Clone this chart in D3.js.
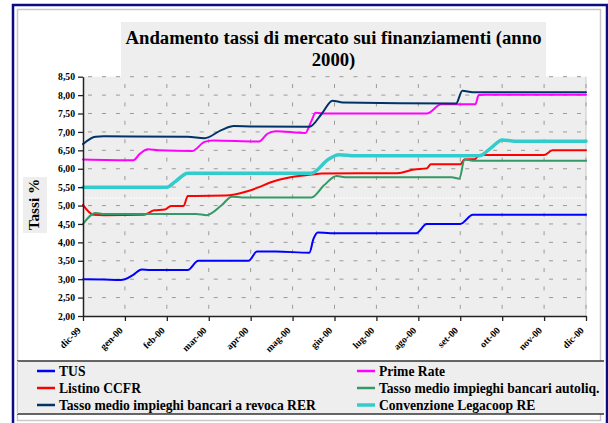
<!DOCTYPE html>
<html>
<head>
<meta charset="utf-8">
<script src="https://cdn.jsdelivr.net/npm/d3@7"></script>
<style>
  html, body { margin: 0; padding: 0; background: #ffffff; }
  svg text { font-family: "Liberation Serif", "Tinos", "Times New Roman", "DejaVu Serif", serif; }
</style>
</head>
<body>
<svg id="chart" width="608" height="423"></svg>
<script>
// ---------------- data ----------------
const title = ["Andamento tassi di mercato sui finanziamenti (anno", "2000)"];
const yLabel = "Tassi %";
const months = ["dic-99","gen-00","feb-00","mar-00","apr-00","mag-00","giu-00","lug-00","ago-00","set-00","ott-00","nov-00","dic-00"];
const yTicks = [2.0,2.5,3.0,3.5,4.0,4.5,5.0,5.5,6.0,6.5,7.0,7.5,8.0,8.5];

const seriesNames = ["TUS","Prime Rate","Listino CCFR","Tasso medio impieghi bancari autoliq.","Tasso medio impieghi bancari a revoca RER","Convenzione Legacoop RE"];
const seriesColors = ["#0000ff","#ff00ff","#ff0000","#339966","#003366","#33cccc"];

// [month index (0 = dic-99), rate %]
const tus = [[0,3.00],[0.5,2.99],[0.9,2.98],[1.0,3.00],[1.2,3.12],[1.4,3.26],[1.6,3.25],[2.5,3.25],[2.75,3.50],[3.0,3.50],
  [3.95,3.50],[4.15,3.75],[4.6,3.75],[5.4,3.72],[5.5,4.10],[5.6,4.27],[5.9,4.25],[7.95,4.25],[8.2,4.50],[9.0,4.50],[9.3,4.75],[12,4.75]];
const primeRate = [[0,6.25],[1.2,6.23],[1.35,6.40],[1.55,6.53],[1.8,6.50],[2.6,6.48],[2.9,6.73],[3.1,6.77],[4.2,6.74],[4.4,6.95],[4.6,7.02],
  [5.3,6.97],[5.45,7.30],[5.55,7.52],[5.8,7.50],[8.2,7.50],[8.55,7.75],[9.36,7.75],[9.44,8.00],[9.6,8.01],[12,8.01]];
const listinoCCFR = [[0,5.02],[0.25,4.75],[0.5,4.74],[1.45,4.75],[1.7,4.87],[1.95,4.89],[2.1,4.99],[2.4,4.99],[2.5,5.26],[2.7,5.26],[3.4,5.27],
  [3.9,5.38],[4.2,5.50],[4.45,5.62],[4.95,5.77],[5.45,5.84],[5.7,5.87],[7.5,5.88],[7.9,5.98],[8.2,6.01],[8.3,6.12],[9.0,6.12],[9.1,6.25],
  [9.35,6.26],[9.45,6.37],[11.0,6.37],[11.2,6.50],[12,6.50]];
const autoliq = [[0,4.50],[0.3,4.80],[0.5,4.77],[2.7,4.77],[2.95,4.74],[3.3,5.00],[3.55,5.24],[3.8,5.22],[5.45,5.22],[5.75,5.55],[6.05,5.80],
  [6.3,5.77],[8.8,5.77],[8.98,5.73],[9.1,6.25],[9.3,6.22],[12,6.22]];
const revocaRER = [[0,6.67],[0.3,6.87],[0.5,6.88],[2.5,6.87],[2.9,6.83],[3.3,7.05],[3.6,7.16],[4.0,7.15],[5.4,7.14],[5.7,7.50],[5.95,7.85],
  [6.2,7.80],[8.9,7.77],[9.05,8.12],[9.3,8.08],[12,8.08]];
const legacoop = [[0,5.50],[2.0,5.50],[2.2,5.65],[2.5,5.88],[2.7,5.88],[5.45,5.88],[5.85,6.25],[6.1,6.38],[6.5,6.35],[9.45,6.35],[9.75,6.58],
  [10.0,6.78],[10.3,6.75],[12,6.75]];

const seriesData = [tus, primeRate, listinoCCFR, autoliq, revocaRER, legacoop];
const seriesWidths = [2, 2, 2, 2, 2, 3.5];

// ---------------- layout ----------------
const FONT = "'Liberation Serif', Tinos, 'Times New Roman', 'DejaVu Serif', serif";
const svg = d3.select("#chart");
const plot = {left: 83, right: 586, top: 76.7, bottom: 316};
const x = d3.scaleLinear().domain([0, 12]).range([plot.left, plot.right]);
const y = d3.scaleLinear().domain([2, 8.5]).range([plot.bottom, plot.top]);
const bg = "#eeeeee";

// outer frame and chart area border
svg.append("rect").attr("x", 17.5).attr("y", 9.5).attr("width", 583).attr("height", 411)
  .attr("fill", "#ffffff").attr("stroke", "#c8c8c8").attr("stroke-width", 1.5);
svg.append("rect").attr("x", 13).attr("y", 5).attr("width", 594).attr("height", 440)
  .attr("fill", "none").attr("stroke", "#0c0c84").attr("stroke-width", 2.5);

// title background + plot background
svg.append("rect").attr("x", 121).attr("y", 22).attr("width", 425).attr("height", 56).attr("fill", bg);
svg.append("rect").attr("x", plot.left).attr("y", plot.top).attr("width", plot.right - plot.left)
  .attr("height", plot.bottom - plot.top).attr("fill", bg);
svg.append("line").attr("x1", plot.right).attr("x2", plot.right).attr("y1", plot.top).attr("y2", plot.bottom)
  .attr("stroke", "#c8c8c8").attr("stroke-width", 1);

// grid
const grid = svg.append("g");
grid.selectAll("line.h").data(yTicks.filter(d => d > 2)).join("line")
  .attr("x1", plot.left).attr("x2", plot.right).attr("y1", d => y(d)).attr("y2", d => y(d))
  .attr("stroke", "#9a9a9a").attr("stroke-width", 1)
  .attr("stroke-dasharray", "4,9.97").attr("stroke-dashoffset", -5);
grid.selectAll("line.v").data(d3.range(1, 13)).join("line")
  .attr("x1", d => x(d)).attr("x2", d => x(d)).attr("y1", plot.bottom).attr("y2", plot.top)
  .attr("stroke", "#9a9a9a").attr("stroke-width", 1)
  .attr("stroke-dasharray", "4,14.4").attr("stroke-dashoffset", -7.2);
// faint white streak across the plot
svg.append("line").attr("x1", plot.left + 2).attr("x2", plot.right).attr("y1", 198).attr("y2", 198)
  .attr("stroke", "#ffffff").attr("stroke-width", 1).attr("stroke-dasharray", "2,1");

// title
svg.append("text").attr("x", 333.5).attr("text-anchor", "middle").attr("font-family", FONT)
  .attr("font-weight", "bold").attr("font-size", 18.7).attr("fill", "#000")
  .selectAll("tspan").data(title).join("tspan")
  .attr("x", 333.5).attr("y", (d, i) => 44 + i * 21.5).text(d => d);

// y label
svg.append("rect").attr("x", 23).attr("y", 177).attr("width", 24).attr("height", 56).attr("fill", bg);
svg.append("text").attr("transform", "translate(39,204.5) rotate(-90)").attr("text-anchor", "middle")
  .attr("font-family", FONT).attr("font-weight", "bold").attr("font-size", 15.3).text(yLabel);

// lines
const line = d3.line().x(d => x(d[0])).y(d => y(d[1])).curve(d3.curveMonotoneX);
svg.append("g").selectAll("path").data(seriesData).join("path")
  .attr("d", line).attr("fill", "none")
  .attr("stroke", (d, i) => seriesColors[i]).attr("stroke-width", (d, i) => seriesWidths[i])
  .attr("stroke-linejoin", "round").attr("stroke-linecap", "round");

// axes
const fmt = d => d3.format(".2f")(d).replace(".", ",");
const yAxis = svg.append("g").attr("transform", `translate(${plot.left},0)`)
  .call(d3.axisLeft(y).tickValues(yTicks).tickFormat(fmt).tickSize(5).tickSizeOuter(0).tickPadding(3));
const xAxis = svg.append("g").attr("transform", `translate(0,${plot.bottom})`)
  .call(d3.axisBottom(x).tickValues(d3.range(13)).tickFormat(i => months[i]).tickSize(5).tickSizeOuter(0));
[yAxis, xAxis].forEach(a => {
  a.attr("font-family", FONT).attr("font-size", 9.7);
  a.select(".domain").attr("stroke", "#222").attr("stroke-width", 1.5);
  a.selectAll(".tick line").attr("stroke", "#222").attr("stroke-width", 1.3);
  a.selectAll("text").attr("fill", "#000").attr("font-weight", "bold");
});
xAxis.selectAll(".tick text").attr("text-anchor", "end").attr("dy", null).attr("y", null)
  .attr("transform", "translate(-2,15) rotate(-45)");

// legend
const lg = svg.append("g").attr("font-family", FONT);
lg.append("rect").attr("x", 17).attr("y", 361).attr("width", 587).attr("height", 53).attr("fill", bg);
lg.append("line").attr("x1", 17).attr("x2", 604).attr("y1", 361).attr("y2", 361).attr("stroke", "#333").attr("stroke-width", 1.5);
lg.append("line").attr("x1", 17).attr("x2", 604).attr("y1", 414).attr("y2", 414).attr("stroke", "#333").attr("stroke-width", 1.5);
lg.append("line").attr("x1", 17.5).attr("x2", 17.5).attr("y1", 361).attr("y2", 414).attr("stroke", "#c8c8c8").attr("stroke-width", 1);
const items = lg.selectAll("g.item").data(seriesNames).join("g")
  .attr("transform", (d, i) => `translate(${i % 2 === 0 ? 37 : 357},${371 + Math.floor(i / 2) * 17})`);
items.append("line").attr("x1", 0).attr("x2", 18).attr("y1", 0).attr("y2", 0)
  .attr("stroke", (d, i) => seriesColors[i]).attr("stroke-width", (d, i) => i === 5 ? 3.5 : 2.5);
items.append("text").attr("x", 22).attr("y", 0).attr("dy", "0.33em")
  .attr("font-weight", "bold").attr("font-size", 13.6).text(d => d);
</script>
</body>
</html>
